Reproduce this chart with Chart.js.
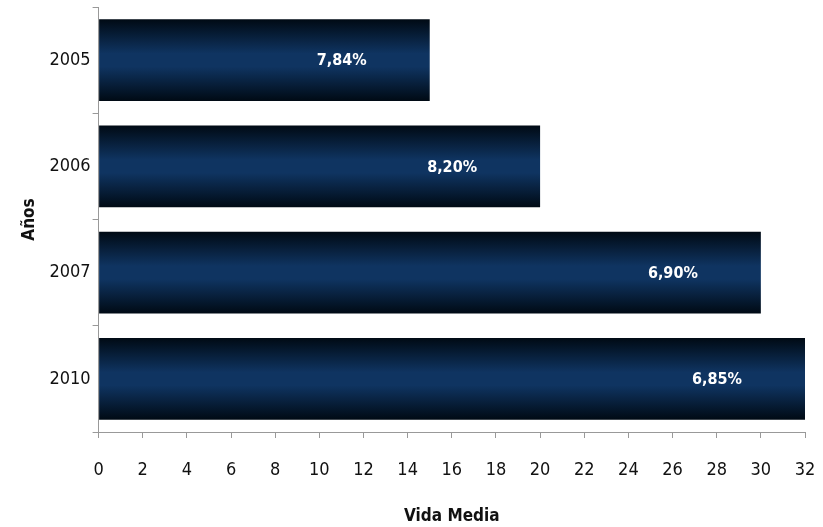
<!DOCTYPE html>
<html>
<head>
<meta charset="utf-8">
<script src="https://cdn.jsdelivr.net/npm/chart.js@4/dist/chart.umd.min.js"></script>
<style>
  html, body { margin: 0; padding: 0; background: #fff; }
  #wrap { width: 823px; height: 527px; }
</style>
</head>
<body>
<div id="wrap"><canvas id="vidaChart" width="823" height="527"></canvas></div>
<script>
const years = ['2005', '2006', '2007', '2010'];
const vidaMedia = [15, 20, 30, 32];
const pctLabels = ['7,84%', '8,20%', '6,90%', '6,85%'];

const FONT = '"Liberation Sans Narrow", "DejaVu Sans Condensed", Arial, sans-serif';

// gradiente vertical oscuro-azul-oscuro en cada barra
const barGradient = {
    id: 'barGradient',
    beforeDatasetsDraw(chart) {
        const c = chart.ctx;
        chart.getDatasetMeta(0).data.forEach(bar => {
            const top = bar.y - bar.height / 2;
            const bottom = bar.y + bar.height / 2;
            const g = c.createLinearGradient(0, top, 0, bottom);
            g.addColorStop(0, '#000a14');
            g.addColorStop(0.42, '#0f3461');
            g.addColorStop(0.58, '#0f3461');
            g.addColorStop(1, '#000a14');
            bar.options.backgroundColor = g;
        });
    }
};

// etiquetas de porcentaje dentro de la barra
const pctPlugin = {
    id: 'pctPlugin',
    afterDatasetsDraw(chart) {
        const c = chart.ctx;
        c.save();
        c.font = 'bold 16px ' + FONT;
        c.fillStyle = '#ffffff';
        c.textAlign = 'center';
        c.textBaseline = 'middle';
        chart.getDatasetMeta(0).data.forEach((bar, i) => {
            c.fillText(pctLabels[i], bar.x - 88, bar.y + 1);
        });
        c.restore();
    }
};

new Chart(document.getElementById('vidaChart'), {
    type: 'bar',
    data: {
        labels: years,
        datasets: [{
            data: vidaMedia,
            // scriptable -> cada barra tiene sus propias opciones
            backgroundColor: ctx => '#0f3461',
            borderWidth: 0,
            barPercentage: 0.77,
            categoryPercentage: 1
        }]
    },
    options: {
        indexAxis: 'y',
        responsive: false,
        animation: false,
        layout: { padding: { top: 7, right: 18, bottom: 0, left: 19 } },
        plugins: {
            legend: { display: false },
            tooltip: { enabled: false }
        },
        scales: {
            x: {
                min: 0,
                max: 32,
                afterFit: s => { s.paddingRight = 0; },
                ticks: {
                    stepSize: 2,
                    color: '#111',
                    font: { family: FONT, size: 18 },
                    padding: 22,
                    maxRotation: 0
                },
                grid: { drawOnChartArea: false, tickLength: 6, color: '#999' },
                border: { color: '#999' },
                title: {
                    display: true,
                    text: 'Vida Media',
                    color: '#111',
                    font: { family: FONT, size: 17, weight: 'bold' },
                    padding: { top: 3, bottom: 0 }
                }
            },
            y: {
                afterFit: s => { s.paddingTop = 0; s.paddingBottom = 0; },
                ticks: {
                    color: '#111',
                    font: { family: FONT, size: 18 },
                    padding: 2
                },
                grid: { drawOnChartArea: false, tickLength: 6, color: '#999', offset: true },
                border: { color: '#999' },
                title: {
                    display: true,
                    text: 'Años',
                    color: '#111',
                    font: { family: FONT, size: 17, weight: 'bold' },
                    padding: { top: 0, bottom: 8 }
                }
            }
        }
    },
    plugins: [barGradient, pctPlugin]
});
</script>
</body>
</html>
